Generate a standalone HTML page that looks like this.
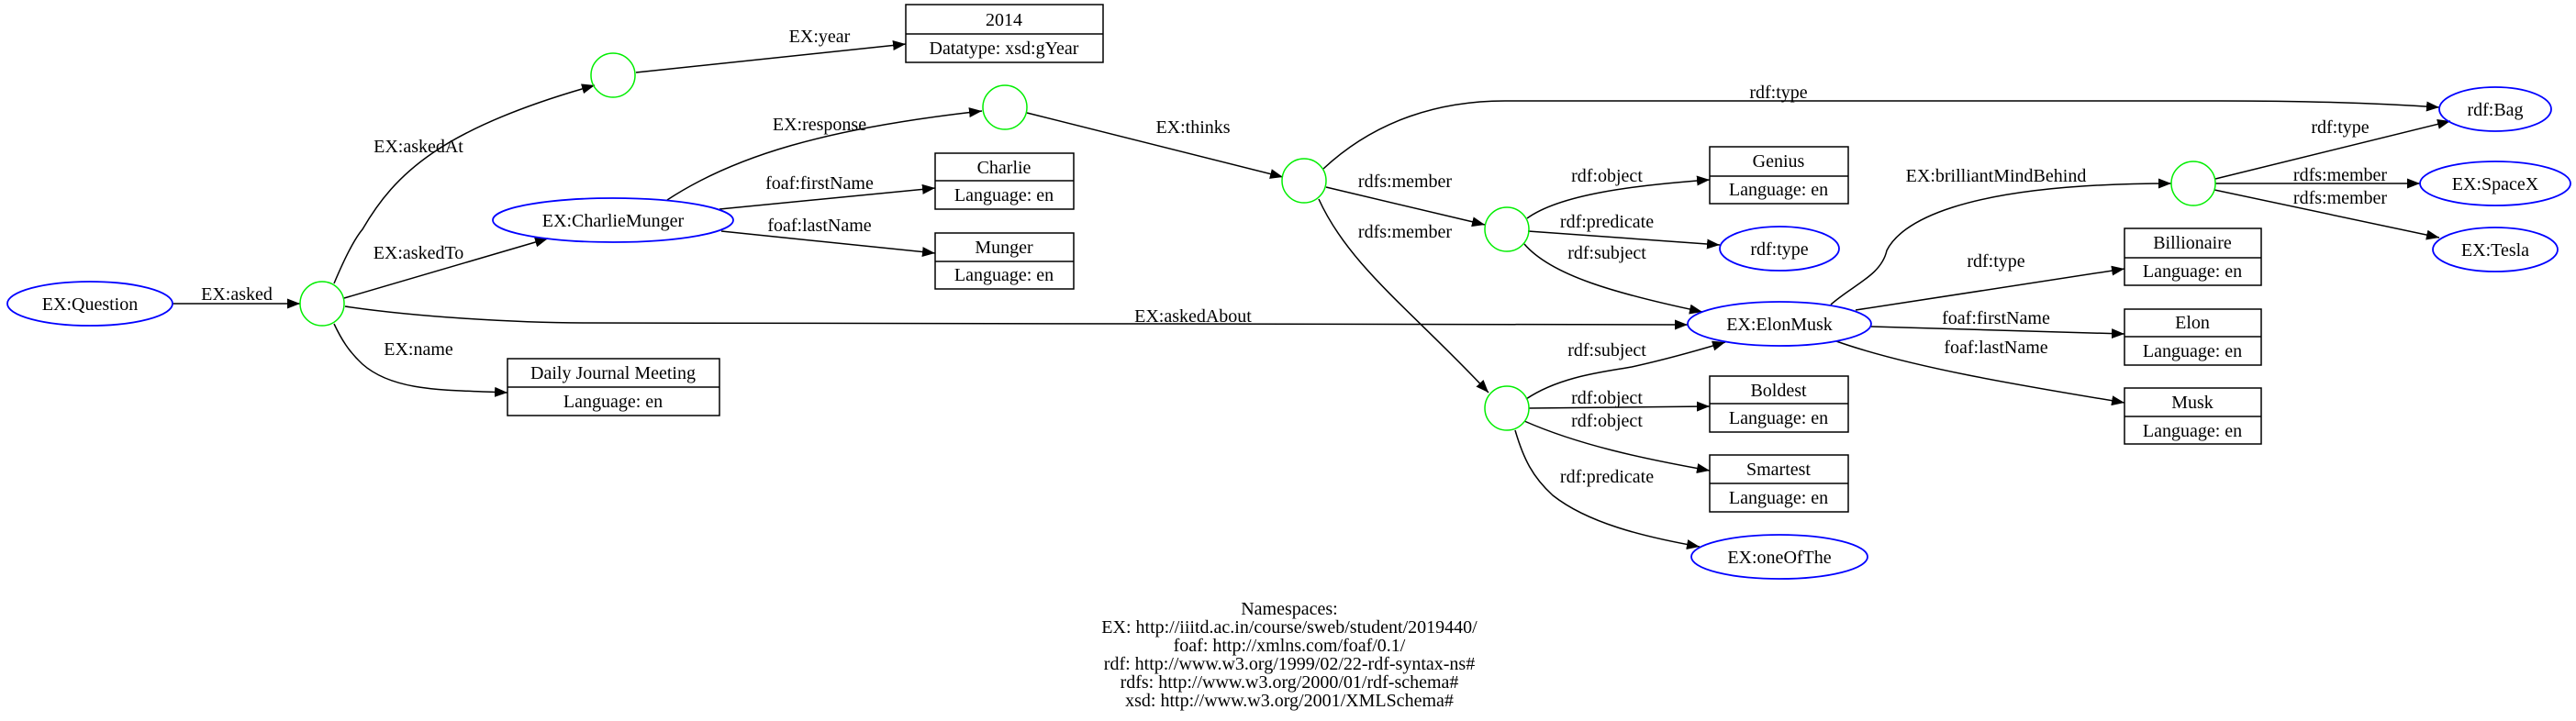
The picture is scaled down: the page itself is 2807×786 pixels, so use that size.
<!DOCTYPE html>
<html><head><meta charset="utf-8"><style>
html,body{margin:0;padding:0;background:#fff;}
svg{display:block;}
text{font-family:"Liberation Serif",serif;font-size:20px;fill:#000;text-anchor:middle;}
</style></head><body>
<svg width="2807" height="786" viewBox="0 0 2807 786" xmlns="http://www.w3.org/2000/svg">
<defs>
<marker id="a" markerUnits="userSpaceOnUse" markerWidth="16" markerHeight="12" refX="14" refY="5.5" orient="auto">
<path d="M0,0 L14,5.5 L0,11 Z" fill="#000"/>
</marker>
</defs>
<g fill="none" stroke="#000" stroke-width="1.5" marker-end="url(#a)">
<path d="M188,331 L327,331"/>
<path d="M364,309 C372,290 384,263 395,250 C430,190 480,140 648,93" />
<path d="M375,325 L597,260"/>
<path d="M376,334 C450,345 560,352 640,352 L1839,354"/>
<path d="M364,353 C372,370 380,383 395,397 C430,428 490,425 553,428"/>
<path d="M693,79 L987,48"/>
<path d="M727,218 C800,170 900,140 1070,121"/>
<path d="M784,228 L1019,205"/>
<path d="M786,252 L1019,276"/>
<path d="M1119,123 L1398,193"/>
<path d="M1442,184 C1500,130 1570,110 1640,110 L2420,110 C2520,110 2600,113 2658,117"/>
<path d="M1445,204 L1618,245"/>
<path d="M1437,217 C1470,290 1540,340 1622,428"/>
<path d="M1664,238 C1700,212 1780,202 1863,196"/>
<path d="M1665,252 L1874,267"/>
<path d="M1661,266 C1690,300 1760,320 1855,340"/>
<path d="M1663,435 C1700,410 1750,405 1778,400 C1810,393 1840,385 1880,373"/>
<path d="M1666,445 L1863,443"/>
<path d="M1661,459 C1720,485 1790,500 1863,513"/>
<path d="M1651,469 C1660,500 1670,520 1692,540 C1730,570 1790,585 1852,596"/>
<path d="M1995,332 C2020,310 2050,300 2056,273 C2070,245 2130,200 2366,200"/>
<path d="M2022,338 L2315,293"/>
<path d="M2039,356 L2315,364"/>
<path d="M2001,372 C2080,400 2200,420 2315,439"/>
<path d="M2414,195 L2670,132"/>
<path d="M2414,200 L2637,200"/>
<path d="M2413,207 L2658,259"/>
</g>
<g fill="none" stroke="#00ee00" stroke-width="1.5">
<circle cx="351" cy="331" r="24"/>
<circle cx="668" cy="82" r="24"/>
<circle cx="1095" cy="117" r="24"/>
<circle cx="1421" cy="197" r="24"/>
<circle cx="1642" cy="250" r="24"/>
<circle cx="1642" cy="445" r="24"/>
<circle cx="2390" cy="200" r="24"/>
</g>
<g fill="none" stroke="#0000ff" stroke-width="1.8">
<ellipse cx="98" cy="331" rx="90" ry="24"/>
<ellipse cx="668" cy="240" rx="131" ry="24"/>
<ellipse cx="1939" cy="271" rx="65" ry="24"/>
<ellipse cx="1939" cy="353" rx="100" ry="24"/>
<ellipse cx="1939" cy="607" rx="96" ry="24"/>
<ellipse cx="2719" cy="119" rx="61" ry="24"/>
<ellipse cx="2719" cy="200" rx="82" ry="24"/>
<ellipse cx="2719" cy="272" rx="68" ry="24"/>
</g>
<g fill="none" stroke="#000" stroke-width="1.5">
<rect x="987" y="5" width="215" height="63"/><line x1="987" y1="37" x2="1202" y2="37"/>
<rect x="553" y="391" width="231" height="62"/><line x1="553" y1="422" x2="784" y2="422"/>
<rect x="1019" y="167" width="151" height="61"/><line x1="1019" y1="197" x2="1170" y2="197"/>
<rect x="1019" y="254" width="151" height="61"/><line x1="1019" y1="285" x2="1170" y2="285"/>
<rect x="1863" y="160" width="151" height="62"/><line x1="1863" y1="192" x2="2014" y2="192"/>
<rect x="1863" y="410" width="151" height="61"/><line x1="1863" y1="440" x2="2014" y2="440"/>
<rect x="1863" y="496" width="151" height="62"/><line x1="1863" y1="527" x2="2014" y2="527"/>
<rect x="2315" y="249" width="149" height="62"/><line x1="2315" y1="281" x2="2464" y2="281"/>
<rect x="2315" y="337" width="149" height="61"/><line x1="2315" y1="367" x2="2464" y2="367"/>
<rect x="2315" y="423" width="149" height="61"/><line x1="2315" y1="454" x2="2464" y2="454"/>
</g>
<g>
<text x="98" y="338">EX:Question</text>
<text x="668" y="247">EX:CharlieMunger</text>
<text x="1939" y="278">rdf:type</text>
<text x="1939" y="360">EX:ElonMusk</text>
<text x="1939" y="614">EX:oneOfThe</text>
<text x="2719" y="126">rdf:Bag</text>
<text x="2719" y="207">EX:SpaceX</text>
<text x="2719" y="279">EX:Tesla</text>
<text x="1094" y="28">2014</text><text x="1094" y="59">Datatype: xsd:gYear</text>
<text x="668" y="413">Daily Journal Meeting</text><text x="668" y="444">Language: en</text>
<text x="1094" y="189">Charlie</text><text x="1094" y="219">Language: en</text>
<text x="1094" y="276">Munger</text><text x="1094" y="306">Language: en</text>
<text x="1938" y="182">Genius</text><text x="1938" y="213">Language: en</text>
<text x="1938" y="432">Boldest</text><text x="1938" y="462">Language: en</text>
<text x="1938" y="518">Smartest</text><text x="1938" y="549">Language: en</text>
<text x="2389" y="271">Billionaire</text><text x="2389" y="302">Language: en</text>
<text x="2389" y="358">Elon</text><text x="2389" y="389">Language: en</text>
<text x="2389" y="445">Musk</text><text x="2389" y="476">Language: en</text>
<text x="258" y="327">EX:asked</text>
<text x="456" y="166">EX:askedAt</text>
<text x="456" y="282">EX:askedTo</text>
<text x="1300" y="351">EX:askedAbout</text>
<text x="456" y="387">EX:name</text>
<text x="893" y="46">EX:year</text>
<text x="893" y="142">EX:response</text>
<text x="893" y="206">foaf:firstName</text>
<text x="893" y="252">foaf:lastName</text>
<text x="1300" y="145">EX:thinks</text>
<text x="1938" y="107">rdf:type</text>
<text x="1531" y="204">rdfs:member</text>
<text x="1531" y="259">rdfs:member</text>
<text x="1751" y="198">rdf:object</text>
<text x="1751" y="248">rdf:predicate</text>
<text x="1751" y="282">rdf:subject</text>
<text x="1751" y="388">rdf:subject</text>
<text x="1751" y="440">rdf:object</text>
<text x="1751" y="465">rdf:object</text>
<text x="1751" y="526">rdf:predicate</text>
<text x="2175" y="198">EX:brilliantMindBehind</text>
<text x="2175" y="291">rdf:type</text>
<text x="2175" y="353">foaf:firstName</text>
<text x="2175" y="385">foaf:lastName</text>
<text x="2550" y="145">rdf:type</text>
<text x="2550" y="197">rdfs:member</text>
<text x="2550" y="222">rdfs:member</text>
</g>
<g>
<text x="1405" y="670">Namespaces:</text>
<text x="1405" y="690">EX: http://iiitd.ac.in/course/sweb/student/2019440/</text>
<text x="1405" y="710">foaf: http://xmlns.com/foaf/0.1/</text>
<text x="1405" y="730">rdf: http://www.w3.org/1999/02/22-rdf-syntax-ns#</text>
<text x="1405" y="750">rdfs: http://www.w3.org/2000/01/rdf-schema#</text>
<text x="1405" y="770">xsd: http://www.w3.org/2001/XMLSchema#</text>
</g>
</svg>
</body></html>
